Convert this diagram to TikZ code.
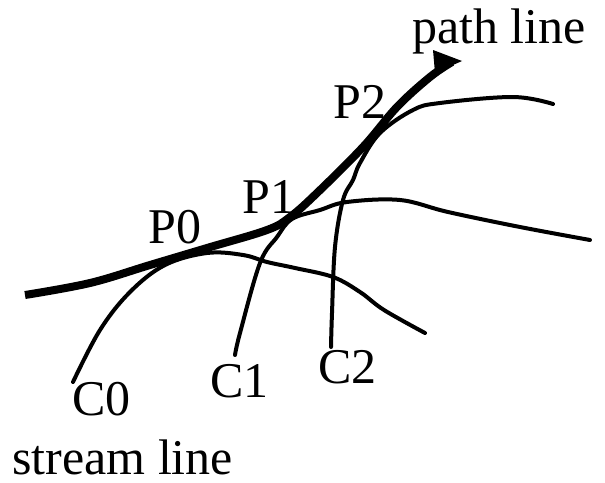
\documentclass[tikz,border=0pt]{standalone}
\usepackage{fontspec}
\setmainfont{Liberation Serif}
\begin{document}
\begin{tikzpicture}
        [x=1pt,y=-1pt,
         thin line/.style={line width=4pt, line cap=round, line join=round},
         thick line/.style={line width=8pt, line join=round},
         lbl/.style={anchor=base west, inner sep=0pt, font=\fontsize{50}{50}\selectfont}]
        \useasboundingbox (0,0) rectangle (605,482);
        %stream line C0
            \draw[thin line] plot[smooth, tension=0.6] coordinates
                {(73,382) (100,330) (130,292) (165,265) (207,253) (243,255) (267,262)
                 (295,268) (333,277) (360,292) (384,310) (425,333)};
        %stream line C1
            \draw[thin line] plot[smooth, tension=0.6] coordinates
                {(235,355) (240,333) (260,263) (277,237) (292,219) (320,210) (347,202)
                 (400,200) (448,212) (520,227) (590,240)};
        %stream line C2
            \draw[thin line] plot[smooth, tension=0.6] coordinates
                {(331,347) (332,313) (335,247) (343,200) (353,180) (360,163) (380,133)
                 (413,110) (440,103) (513,97) (553,104)};
        %path line
            \draw[thick line] plot[smooth, tension=0.6] coordinates
                {(25,295) (90,283) (150,265) (207,248) (267,230) (290,217) (317,193)
                 (363,147) (397,107) (430,77) (452,62)};
            \coordinate (tip) at (462,61);
            \fill (433,50) -- (tip) -- (435,73) -- cycle;
        %label
            \node[lbl] (pathlbl) at (412,43) {path line};
            \node[lbl] (p2) at (333,118) {P2};
            \node[lbl] (p1) at (242,213) {P1};
            \node[lbl] (p0) at (148,243) {P0};
            \node[lbl] (c0) at (72,415) {C0};
            \node[lbl] (c1) at (210,397) {C1};
            \node[lbl] (c2) at (318,383) {C2};
            \node[lbl] (streamlbl) at (12,474) {stream line};
    \end{tikzpicture}
\end{document}
